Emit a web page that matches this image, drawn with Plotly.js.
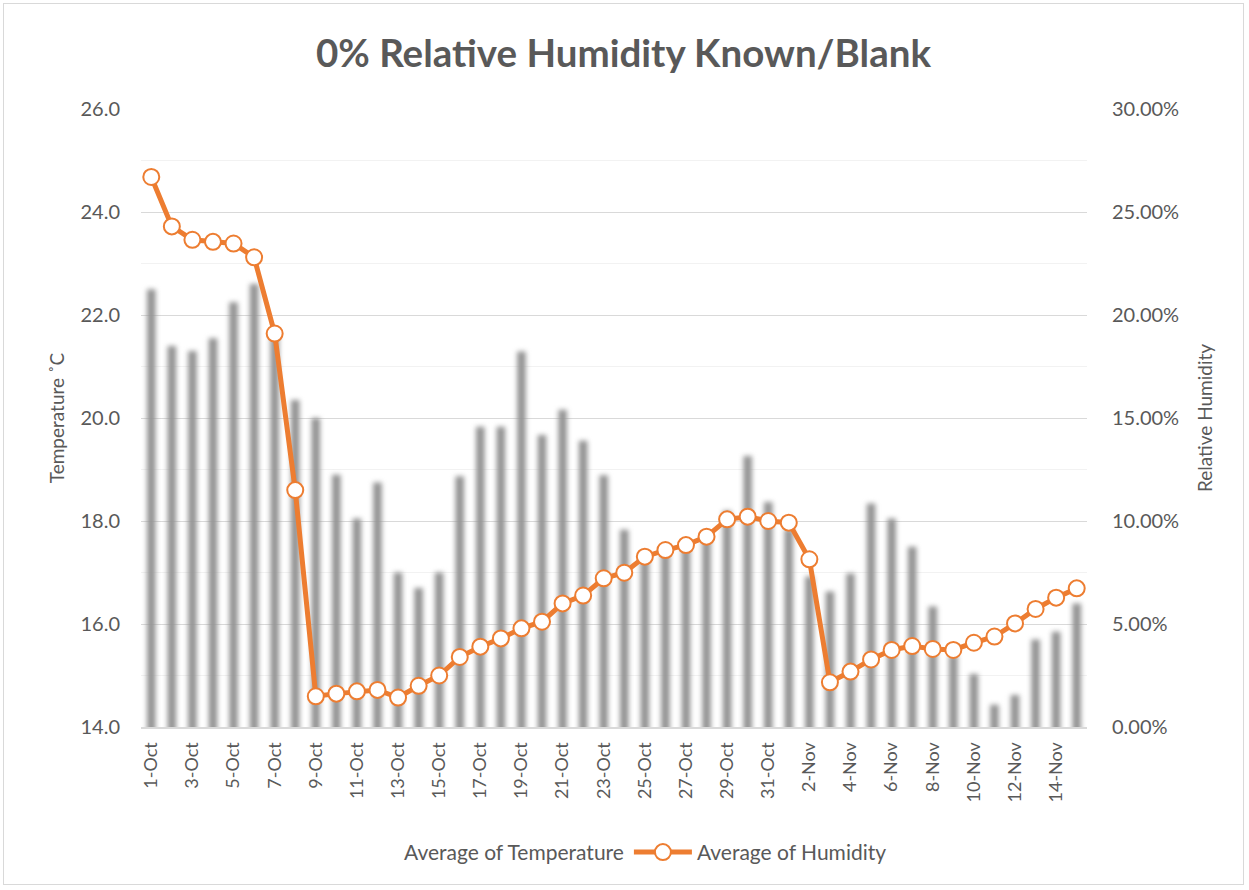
<!DOCTYPE html>
<html><head><meta charset="utf-8">
<script src="https://cdn.plot.ly/plotly-3.0.1.min.js"></script>
<style>
body{margin:0;background:#fff}
#chart{width:1249px;height:890px;position:relative}
#frame{position:absolute;left:3px;top:3px;width:1241px;height:882px;border:1px solid #d9d9d9;pointer-events:none;box-sizing:border-box}
.barlayer .point path{filter:blur(2.4px)}
.legend .traces:first-of-type .legendpoints{display:none}
</style></head>
<body>
<div id="chart"></div>
<div id="frame"></div>
<script>
const days = ['1-Oct','2-Oct','3-Oct','4-Oct','5-Oct','6-Oct','7-Oct','8-Oct','9-Oct','10-Oct',
 '11-Oct','12-Oct','13-Oct','14-Oct','15-Oct','16-Oct','17-Oct','18-Oct','19-Oct','20-Oct',
 '21-Oct','22-Oct','23-Oct','24-Oct','25-Oct','26-Oct','27-Oct','28-Oct','29-Oct','30-Oct','31-Oct',
 '1-Nov','2-Nov','3-Nov','4-Nov','5-Nov','6-Nov','7-Nov','8-Nov','9-Nov','10-Nov',
 '11-Nov','12-Nov','13-Nov','14-Nov','15-Nov'];
const temperature = [22.5,21.4,21.3,21.55,22.25,22.6,21.6,20.35,20.0,18.9,
 18.05,18.75,17.0,16.7,17.0,18.87,19.83,19.83,21.29,19.67,
 20.16,19.56,18.89,17.83,17.3,17.4,17.5,17.7,18.2,19.26,18.37,
 17.85,16.92,16.63,16.98,18.34,18.05,17.5,16.34,15.4,15.03,
 14.43,14.62,15.7,15.85,16.4];
const humidity = [0.267,0.243,0.2365,0.2355,0.2347,0.228,0.191,0.115,0.0149,0.0162,
 0.0173,0.018,0.0143,0.020,0.025,0.034,0.039,0.043,0.0479,0.0511,
 0.060,0.0638,0.0722,0.0749,0.0827,0.0859,0.0883,0.0924,0.1008,0.1021,0.100,
 0.0992,0.0814,0.0217,0.0269,0.0328,0.0374,0.0393,0.0379,0.0374,0.0409,
 0.0439,0.0503,0.0573,0.0628,0.0673];
const xTickLabels = days.filter((d,i)=>i%2===0);

const txt = '#595959';
const fontFam = 'Lato, "Open Sans", sans-serif';

const traces = [
 {type:'bar', x:days, y:temperature, name:'Average of Temperature', width:0.42,
  marker:{color:'#939393'}, yaxis:'y', hoverinfo:'x+y'},
 {type:'scatter', mode:'lines+markers', x:days, y:humidity, name:'Average of Humidity', yaxis:'y2',
  line:{color:'#ED7D31', width:5},
  marker:{symbol:'circle', size:16, color:'#ffffff', line:{color:'#ED7D31', width:2}}}
];

const layout = {
 width:1249, height:890,
 margin:{l:141, r:162, t:109, b:163},
 paper_bgcolor:'#ffffff', plot_bgcolor:'#ffffff',
 font:{family:fontFam, color:txt, size:19},
 title:{text:'<b>0% Relative Humidity Known/Blank</b>', font:{size:38.5, color:txt, family:fontFam},
   x:0.51, xref:'paper', xanchor:'center', y:0.94, yref:'container', yanchor:'middle'},
 xaxis:{type:'category', range:[-0.5,45.5], tickmode:'array', tickvals:xTickLabels, ticktext:xTickLabels,
   tickangle:-90, tickfont:{size:18, color:txt}, showgrid:false, showline:true, linecolor:'#d9d9d9', linewidth:2,
   ticks:'', zeroline:false, ticklabelstandoff:6},
 yaxis:{range:[14,26], dtick:2, tickformat:'.1f', showgrid:true, gridcolor:'#d9d9d9', gridwidth:1,
   minor:{dtick:1, showgrid:true, gridcolor:'#f2f2f2', gridwidth:1},
   zeroline:false, showline:false, ticks:'', tickfont:{size:20, color:txt}, ticklabelstandoff:20,
   title:{text:'Temperature ˚C', font:{size:19, color:txt}, standoff:10}},
 yaxis2:{range:[0,0.30], dtick:0.05, tickformat:'.2%', overlaying:'y', side:'right', showgrid:false,
   zeroline:false, showline:false, ticks:'', tickfont:{size:20, color:txt}, ticklabelstandoff:24,
   title:{text:'Relative Humidity', font:{size:19, color:txt}, standoff:20}},
 legend:{orientation:'h', x:0.5, xanchor:'center', y:-0.203, yanchor:'middle', font:{size:21, color:txt},
   traceorder:'normal', itemwidth:58},
 showlegend:true
};

Plotly.newPlot('chart', traces, layout, {displayModeBar:false, staticPlot:true});
</script>
</body></html>
